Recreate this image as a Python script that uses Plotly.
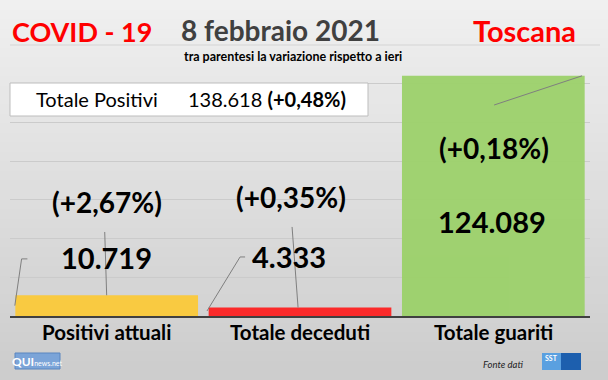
import plotly.graph_objects as go

# ---- data ----
categories = ["Positivi attuali", "Totale deceduti", "Totale guariti"]
values = [10719, 4333, 124089]
value_labels = ["10.719", "4.333", "124.089"]
change_labels = ["(+2,67%)", "(+0,35%)", "(+0,18%)"]
bar_colors = ["#FCCA3A", "#FE2222", "#9CD16A"]
total_label = "Totale Positivi"
total_value = "138.618"
total_change = "(+0,48%)"
title_left = "COVID - 19"
title_date = "8 febbraio 2021"
title_right = "Toscana"
subtitle = "tra parentesi la variazione rispetto a ieri"

W, H = 608, 380
ML, MR, MT, MB = 10, 18, 45, 64
YMAX = 140000
FONT = "Lato"

def px_x(x):
    return (x - ML) / (W - ML - MR)

def px_y(y):
    return (H - MB - y) / (H - MT - MB)

fig = go.Figure()
fig.add_trace(go.Bar(
    x=list(range(len(categories))), y=values,
    marker=dict(color=bar_colors, line=dict(width=0)),
    width=0.945, hoverinfo="skip", opacity=0.95,
))

shapes = []
# background gradient bands
n = 40
for i in range(n):
    t = i / (n - 1)
    c = int(240 - t * (240 - 205))
    shapes.append(dict(type="rect", xref="paper", yref="paper",
                       x0=px_x(0), x1=px_x(W), y0=px_y(H * i / n), y1=px_y(H * (i + 1) / n + 1),
                       fillcolor=f"rgb({c},{c},{c})", line=dict(width=0), layer="below"))
# separator line under title
shapes.append(dict(type="line", xref="paper", yref="paper", x0=px_x(10), x1=px_x(600),
                   y0=px_y(45), y1=px_y(45), line=dict(color="#d4d4d4", width=1)))
# totals box
shapes.append(dict(type="rect", xref="paper", yref="paper",
                   x0=px_x(10), x1=px_x(368), y0=px_y(83), y1=px_y(116),
                   fillcolor="white", line=dict(color="#bdbdbd", width=1)))
# leader lines (data coords)
lc = dict(color="#7f7f7f", width=1)
leaders = [
    [(-0.475, values[0] * 0.5), (-0.44, 29500), (-0.41, 29500)],
    [(0.0, values[0]), (-0.01, 43400)],
    [(0.519, values[1] * 0.6), (0.69, 30500), (0.716, 30500)],
    [(0.99, values[1]), (0.959, 46000)],
    [(2.004, 109000), (2.459, values[2])],
]
for pts in leaders:
    for (xa, ya), (xb, yb) in zip(pts[:-1], pts[1:]):
        shapes.append(dict(type="line", x0=xa, x1=xb, y0=ya, y1=yb, line=lc))
# logos
shapes.append(dict(type="rect", xref="paper", yref="paper", x0=px_x(15), x1=px_x(60),
                   y0=px_y(353), y1=px_y(369), fillcolor="#7ba4d8", line=dict(color="#5b86c0", width=1)))
shapes.append(dict(type="rect", xref="paper", yref="paper", x0=px_x(542), x1=px_x(561),
                   y0=px_y(353), y1=px_y(370), fillcolor="#5aa0e0", line=dict(width=0)))
shapes.append(dict(type="rect", xref="paper", yref="paper", x0=px_x(561), x1=px_x(581),
                   y0=px_y(353), y1=px_y(370), fillcolor="#1d5fae", line=dict(width=0)))

ann = []
def A(text, x, y, size, color="black", weight="normal", xref="paper", yref="paper",
      xanchor="center", style="normal"):
    ann.append(dict(text=text, x=x, y=y, xref=xref, yref=yref, showarrow=False,
                    xanchor=xanchor, yanchor="middle",
                    font=dict(family=FONT, size=size, color=color, weight=weight, style=style)))

A(title_left, px_x(10), px_y(31), 27, "#FF0000", "bold", xanchor="left")
A(title_date, px_x(280), px_y(30), 28, "#404040", "bold")
A(title_right, px_x(578), px_y(30), 29, "#FF0000", "bold", xanchor="right")
A(subtitle, px_x(293), px_y(57), 12.5, "black", "bold")
A(total_label, px_x(34), px_y(99), 20, xanchor="left")
A(f"{total_value} <b>{total_change}</b>", px_x(186), px_y(99), 20, xanchor="left")

val_pos = [(0.0, 30000), (0.943, 30500), (1.994, 48600)]
chg_pos = [(0.0, 58900), (0.954, 61500), (2.004, 86800)]
for i in range(len(categories)):
    A(value_labels[i], val_pos[i][0], val_pos[i][1], 29, weight="bold", xref="x", yref="y")
    A(change_labels[i], chg_pos[i][0], chg_pos[i][1], 28, weight="bold", xref="x", yref="y")
    A(categories[i], i, px_y(332), 20.5, weight="bold", xref="x")

A("<b>QUI</b><span style='font-size:7px'>news.net</span>", px_x(37), px_y(361), 12, "white")
A("Fonte dati", px_x(525), px_y(364), 9.5, "#222", xanchor="right", style="italic")
A("<b>SST</b>", px_x(551), px_y(358), 7, "white")

fig.update_layout(
    width=W, height=H, margin=dict(l=ML, r=MR, t=MT, b=MB),
    paper_bgcolor="#dedede", plot_bgcolor="rgba(0,0,0,0)",
    showlegend=False, shapes=shapes, annotations=ann, bargap=0.05,
    xaxis=dict(range=[-0.5, 2.5], showticklabels=False, showgrid=False, zeroline=False,
               showline=True, linecolor="#404040", linewidth=2, fixedrange=True),
    yaxis=dict(range=[0, YMAX], dtick=20000, showticklabels=False, gridcolor="#cbcbcb",
               gridwidth=1, zeroline=False, showline=False, fixedrange=True),
)
fig.write_html("out.html", config={"displayModeBar": False},
               post_script="document.body.style.margin='0';document.body.style.overflow='hidden';")
